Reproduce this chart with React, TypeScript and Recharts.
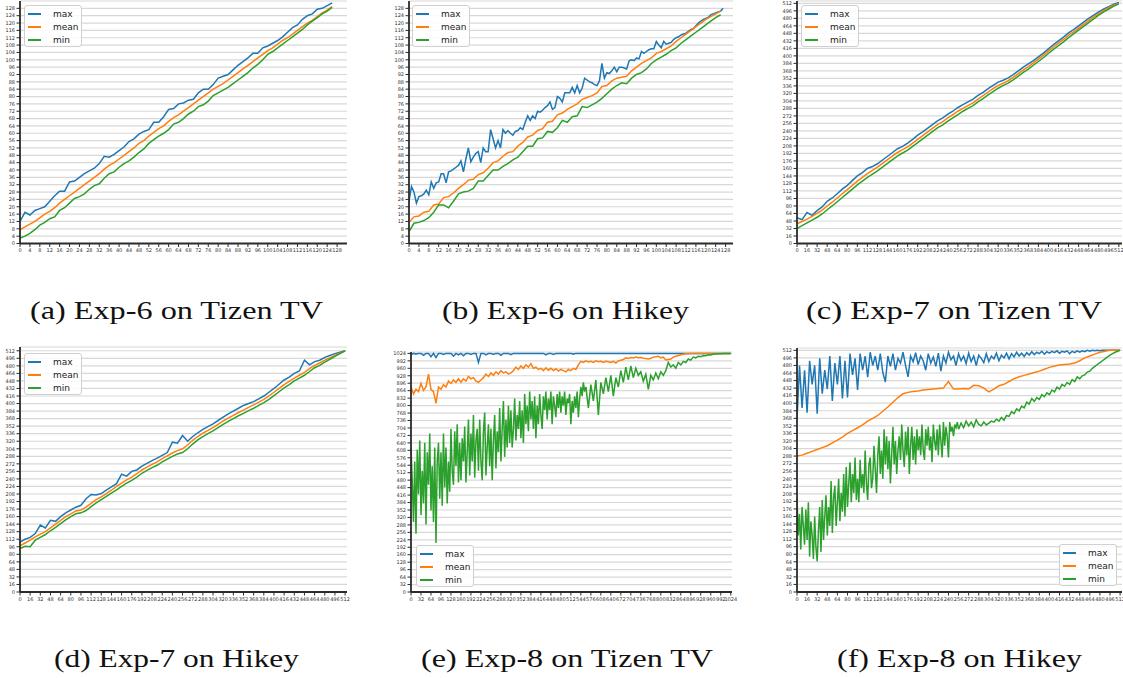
import React from 'react';
import { LineChart, Line, XAxis, YAxis, CartesianGrid } from 'recharts';

const BLUE = '#1f77b4';
const ORANGE = '#ff7f0e';
const GREEN = '#2ca02c';
const SERIES_NAMES = ['max', 'mean', 'min'];

// (a) Exp-6 on Tizen TV, sampled every 2
const aMax = [12, 17, 15.5, 18, 19, 20, 23, 26, 28.5, 28.5, 33.5, 34, 36, 38, 39.5, 41, 43.5, 47.5, 47, 48.5, 50.5, 52.5, 55.5, 57, 59.5, 61, 62, 66, 66, 69, 73, 73.5, 76, 76.5, 78, 78.5, 82, 84, 84, 86.5, 90, 91, 92, 94.5, 97, 99, 101, 103.5, 103.5, 106.5, 107.5, 109, 110.5, 112.5, 115, 117.5, 119, 122, 124, 125, 127.5, 128, 129.5, 131];
const aMean = [7.5, 9, 10.5, 12, 14, 16, 17.5, 19.5, 22, 24, 26, 28, 30, 32, 34, 36, 38, 40.5, 42.5, 44, 46, 48, 50, 52, 54.5, 56, 58.5, 60.5, 62.5, 64, 66.5, 68.5, 70, 72, 74, 76, 78, 80, 82, 84, 85.5, 87, 89, 91, 93, 95, 97, 99, 101, 103, 105, 106.5, 108.5, 110.5, 112, 114, 116, 118, 120, 121.5, 123.5, 125.5, 127, 129];
const aMin = [3, 4, 5.5, 7.5, 10, 11.5, 13.5, 14.5, 18, 19.5, 22, 24.5, 25.5, 27, 29.5, 31.5, 32.5, 35.5, 38, 39, 41.5, 43.5, 45, 47, 49.5, 51.5, 54.5, 56.5, 58.5, 60, 62, 65, 66, 68, 70.5, 72, 74.5, 75.5, 77.5, 80.5, 82, 83.5, 85, 87, 89, 91, 93, 95.5, 97.5, 100, 103, 104.5, 106.5, 108.5, 110.5, 112.5, 114.5, 116.5, 119, 121, 123, 125, 126.5, 128.5];

// (b) Exp-6 on Hikey (max every 1, others every 2)
const bMax = [23, 31, 28, 22, 25.5, 26, 27, 29, 26.5, 33.5, 30, 33, 33.5, 38, 38, 33, 39, 39.5, 40.5, 41.5, 42.5, 45, 39, 46, 52, 44.5, 47, 49, 50, 44, 52, 50, 50, 62, 57, 52, 56, 52, 62, 60, 61.5, 60, 59, 61, 61.5, 63, 62, 66, 69.5, 67, 69.5, 68, 72, 71.5, 72.5, 74, 75, 77, 73, 74, 80, 79, 77, 82, 82, 82, 85, 82, 86, 82, 84.5, 90, 89, 88, 87.5, 86.5, 86, 88.5, 98, 90, 93, 92.5, 94, 96, 93.5, 96, 96, 95.5, 95, 99.5, 100, 99.5, 101, 100.5, 104.5, 103.5, 104.5, 105.5, 106, 106, 110, 108, 106.5, 110, 108.5, 109, 109.5, 111, 112, 112.5, 113.5, 114, 114.5, 115.5, 116.5, 117, 118.5, 120, 121, 122, 122.5, 123, 124.5, 125, 125.5, 126, 126.5, 128];
const bMean = [11.5, 14.5, 15, 17, 17.5, 21, 21.5, 25, 25.5, 27.5, 30, 32, 34.5, 35, 37.5, 38.5, 41, 44, 45, 47.5, 49.5, 50, 53, 55, 58, 59, 61.5, 62.5, 66, 66.5, 70, 71, 73, 74.5, 76, 78.5, 79.5, 80.5, 82, 85.5, 86, 88.5, 90, 90.5, 91, 94, 96, 98, 99.5, 101, 103.5, 104.5, 106, 107.5, 110, 112, 114, 116, 118, 120, 122, 123.5, 125, 126.5];
const bMin = [6.5, 11, 11.5, 12.5, 14, 17, 21, 21, 19.5, 23, 27, 28, 28.5, 30, 34, 34, 37, 40, 40, 42, 43.5, 45.5, 47, 50, 53, 53, 57, 57.5, 61, 60.5, 63, 67, 66, 69, 69.5, 74.5, 74, 75.5, 77, 79, 81.5, 84, 86, 87.5, 87, 90, 92, 93, 95, 98, 100, 101.5, 103, 105, 106.5, 109, 111, 113, 115, 117, 119, 121, 123, 124.5];

// (c) Exp-7 on Tizen TV, every 8
const cMax = [55, 51, 66, 60, 70, 78, 90, 97, 106, 116, 124, 134, 144, 151, 160, 164, 170, 178, 186, 194, 202, 207, 214, 222, 231, 238, 246, 254, 262, 268, 276, 282, 290, 296, 302, 308, 316, 322, 330, 337, 344, 348, 353, 360, 368, 376, 383, 390, 398, 406, 415, 424, 432, 440, 449, 456, 464, 472, 480, 487, 494, 500, 505, 510, 514];
const cMean = [42, 47, 52, 58, 64, 71, 80, 88, 97, 106, 115, 124, 133, 141, 149, 156, 163, 171, 179, 187, 194, 200, 206, 214, 222, 230, 238, 246, 254, 260, 268, 275, 282, 288, 294, 300, 308, 315, 323, 330, 337, 342, 347, 354, 362, 370, 377, 385, 393, 401, 410, 419, 427, 435, 444, 451, 459, 467, 475, 483, 490, 497, 503, 508, 512];
const cMin = [32, 38, 44, 50, 56, 63, 72, 80, 89, 98, 107, 116, 125, 133, 141, 148, 155, 163, 171, 179, 187, 193, 199, 207, 215, 223, 231, 239, 247, 253, 261, 268, 275, 282, 288, 294, 302, 309, 317, 324, 331, 337, 342, 349, 357, 365, 372, 380, 388, 396, 405, 414, 422, 430, 439, 447, 455, 463, 471, 479, 487, 494, 500, 506, 511];

// (d) Exp-7 on Hikey, every 8
const dMax = [106, 112, 116, 124, 142, 136, 152, 150, 160, 168, 174, 180, 184, 198, 207, 206, 209, 216, 223, 230, 250, 246, 256, 259, 267, 273, 279, 284, 290, 296, 318, 316, 332, 320, 330, 338, 345, 351, 357, 364, 371, 378, 384, 390, 396, 400, 404, 410, 416, 424, 432, 441, 450, 456, 464, 469, 492, 482, 489, 492, 498, 502, 506, 509, 512];
const dMean = [98, 104, 110, 117, 123, 128, 136, 144, 152, 160, 166, 172, 174, 180, 188, 196, 202, 209, 216, 224, 231, 238, 244, 251, 259, 265, 271, 276, 283, 289, 295, 300, 304, 312, 322, 330, 337, 343, 349, 356, 363, 369, 375, 381, 386, 392, 397, 403, 409, 416, 424, 432, 440, 447, 454, 460, 466, 474, 481, 486, 492, 497, 502, 507, 512];
const dMin = [92, 97, 96, 110, 116, 122, 130, 137, 145, 153, 160, 166, 168, 173, 181, 189, 196, 203, 210, 217, 224, 231, 237, 244, 252, 258, 264, 269, 276, 282, 288, 293, 296, 304, 314, 323, 330, 336, 342, 349, 356, 362, 368, 374, 379, 385, 390, 396, 402, 409, 417, 425, 433, 440, 448, 454, 460, 468, 476, 481, 488, 494, 500, 506, 512];

// (e) Exp-8 on Tizen TV, every 8 (min: every 4 up to 560, then every 8)
const eMax = [
  1018, 1024, 1021, 1024, 1024, 1016, 1024, 1024, 1010, 1024,
  1006, 1024, 1024, 1020, 1024, 1024, 1024, 1012, 1024, 1018,
  1024, 1014, 1024, 1024, 1020, 1024, 1024, 985, 1024, 1024,
  1018, 1024, 1024, 1020, 1024, 1024, 1016, 1024, 1024, 1024,
  1019, 1024, 1024, 1024, 1024, 1024, 1024, 1024, 1024, 1024,
  1024, 1024, 1024, 1024, 1018, 1024, 1024, 1020, 1024, 1024,
  1024, 1024, 1024, 1024, 1024, 1021, 1024, 1024, 1024, 1024,
  1024, 1024, 1024, 1024, 1024, 1024, 1024, 1024, 1024, 1024,
  1024, 1024, 1024, 1024, 1024, 1024, 1024, 1024, 1024, 1024,
  1024, 1024, 1024, 1024, 1024, 1024, 1024, 1024, 1024, 1024,
  1024, 1024, 1024, 1024, 1024, 1024, 1024, 1024, 1024, 1024,
  1024, 1024, 1024, 1024, 1024, 1024, 1024, 1024, 1024, 1024,
  1024, 1024, 1024, 1024, 1024, 1024, 1024, 1024, 1024,
];
const eMean = [
  880, 850, 870, 860, 895, 865, 880, 935, 870, 860,
  810, 880, 870, 890, 880, 905, 895, 910, 900, 915,
  900, 915, 905, 925, 915, 920, 905, 900, 910, 920,
  935, 925, 940, 930, 945, 935, 950, 940, 945, 935,
  940, 950, 965, 955, 970, 960, 975, 965, 980, 960,
  965, 955, 960, 950, 962, 952, 960, 950, 958, 948,
  955, 950, 945, 955, 950, 960, 955, 975, 990, 985,
  992, 987, 990, 985, 992, 988, 990, 985, 990, 988,
  985, 990, 983, 992, 995, 998, 1005, 1002, 1006, 1004,
  1008, 1005, 1006, 1003, 1002, 1000, 1003, 1008, 1010, 1012,
  1005, 1008, 996, 998, 1000, 1008, 1012, 1015, 1018, 1020,
  1022, 1023, 1024, 1024, 1024, 1024, 1024, 1024, 1024, 1024,
  1024, 1024, 1024, 1024, 1024, 1024, 1024, 1024, 1024,
];
const eMinEarly = [
  620, 480, 300, 560, 250, 610, 420, 650, 330, 520,
  380, 640, 290, 600, 460, 680, 350, 540, 300, 620,
  210, 560, 640, 400, 600, 370, 680, 450, 620, 380,
  560, 430, 700, 520, 460, 690, 540, 720, 470, 640,
  480, 660, 560, 710, 470, 600, 740, 500, 680, 560,
  760, 490, 650, 700, 520, 740, 560, 480, 690, 770,
  500, 620, 720, 540, 700, 480, 650, 760, 530, 690,
  600, 790, 560, 700, 820, 580, 740, 620, 800, 640,
  780, 620, 700, 830, 650, 760, 700, 820, 660, 780,
  640, 850, 720, 800, 690, 860, 740, 820, 700, 840,
  660, 800, 720, 850, 760, 700, 840, 780, 860, 740,
  830, 780, 860, 720, 840, 800, 750, 850, 790, 860,
  770, 840, 800, 860, 760, 830, 810, 850, 720, 820,
  770, 840, 790, 860, 750, 830, 880, 840, 900, 860,
  880,
];
const eMinLate = [
  880, 790, 890, 820, 910, 760, 900, 850, 920, 860,
  930, 840, 920, 880, 950, 900, 965, 910, 970, 920,
  960, 930, 945, 905, 935, 870, 930, 910, 940, 915,
  945, 930, 950, 985, 965, 975, 960, 985, 975, 990,
  985, 1000, 995, 1008, 1005, 1012, 1010, 1015, 1014, 1018,
  1017, 1020, 1021, 1022, 1023, 1024, 1024, 1024, 1024,
];

// (f) Exp-8 on Hikey (max every 4, mean every 8, min every 2 then every 4)
const fMax = [
  365, 480, 390, 470, 380, 490, 440, 480, 378, 495,
  420, 470, 430, 500, 405, 485, 440, 500, 410, 490,
  412, 505, 460, 495, 428, 505, 470, 500, 455, 508,
  480, 500, 470, 505, 465, 445, 500, 478, 505, 470,
  495, 485, 508, 480, 456, 500, 488, 507, 482, 500,
  490, 470, 505, 485, 498, 478, 506, 468, 500, 485,
  508, 492, 500, 480, 505, 490, 500, 484, 506, 488,
  500, 480, 502, 495, 486, 505, 488, 500, 494, 506,
  490, 502, 496, 506, 494, 505, 498, 508, 500, 506,
  499, 507, 502, 509, 503, 508, 505, 510, 504, 509,
  506, 510, 507, 511, 506, 510, 508, 511, 505, 510,
  507, 511, 508, 511, 509, 512, 510, 512, 511, 512,
  511, 512, 512, 512, 512, 512, 512, 512, 512,
];
const fMean = [288, 290, 294, 298, 302, 306, 310, 316, 322, 328, 336, 342, 348, 354, 362, 368, 374, 383, 392, 402, 412, 420, 423, 425, 426, 428, 429, 430, 431, 432, 446, 430, 430, 431, 430, 438, 437, 432, 424, 430, 437, 440, 446, 452, 456, 459, 462, 465, 468, 472, 476, 479, 481, 482, 483, 485, 490, 496, 500, 504, 508, 510, 512, 512, 512];
const fMinEarly = [
  200, 120, 165, 90, 180, 140, 100, 175, 110, 190,
  75, 150, 120, 70, 160, 95, 65, 130, 180, 85,
  195, 110, 160, 205, 120, 180, 140, 235, 125, 200,
  225, 140, 190, 240, 150, 210, 170, 250, 160, 265,
  180, 230, 275, 190, 250, 210, 285, 195, 240, 190,
  280, 220, 250, 210, 300, 230, 195, 270, 285, 220,
  240, 310, 260, 210, 290, 330, 250, 300, 240, 345,
  270, 330, 260, 320, 230, 290, 350, 270, 320, 250,
  300, 330, 280, 355, 300, 265, 340, 290, 350, 250,
  310, 350, 280, 330, 270, 345, 300, 330, 290, 355,
  300, 280, 345, 310, 350, 300, 330, 275, 355, 320,
  300, 345, 290, 355, 320, 285, 360, 310, 350, 330,
  285, 360, 340, 350, 330, 355, 348, 360, 345,
];
const fMinLate = [
  345, 358, 348, 362, 352, 360,
  350, 365, 355, 352, 360, 354, 358, 362, 360, 366,
  362, 370, 364, 374, 372, 382, 378, 388, 384, 394,
  390, 402, 398, 410, 404, 412, 408, 418, 414, 422,
  418, 428, 424, 434, 430, 440, 436, 444, 440, 450,
  446, 456, 452, 458, 460, 466, 468, 474, 478, 482,
  486, 490, 494, 498, 502, 505, 508, 510, 512,
];

const range = (max: number, step: number) => {
  const r: number[] = [];
  for (let v = 0; v <= max; v += step) r.push(v);
  return r;
};
const pts = (vals: number[], step: number, start = 0) => vals.map((y, i) => ({ x: start + i * step, y }));

const AXIS = '#2b2b2b';
const tickStyle = { fontSize: 5, fill: '#333', fontFamily: 'DejaVu Sans' };

type Box = { l: number; t: number; r: number; b: number };
type Series = { vals: number[]; step: number; color: string; start?: number };

function Legend({ left, top }: { left: number; top: number }) {
  const colors = [BLUE, ORANGE, GREEN];
  return (
    <div style={{
      position: 'absolute', left, top, width: 58, height: 42, boxSizing: 'border-box',
      border: '1px solid #d0d0d0', borderRadius: 3, background: 'rgba(255,255,255,0.85)',
      paddingTop: 1.5, fontFamily: 'DejaVu Sans', fontSize: 9, color: '#222',
    }}>
      {SERIES_NAMES.map((n, i) => (
        <div key={n} style={{ height: 13, display: 'flex', alignItems: 'center' }}>
          <span style={{ display: 'inline-block', width: 13, height: 1.8, background: colors[i], marginLeft: 3, marginRight: 12 }} />
          <span>{n}</span>
        </div>
      ))}
    </div>
  );
}

function Panel({ box, xMax, yMax, tickMax, tickStep, series, legend }: {
  box: Box; xMax: number; yMax: number; tickMax: number; tickStep: number; series: Series[]; legend: { left: number; top: number };
}) {
  const YW = 24, MT = 4, MR = 6, XH = 14;
  const w = box.r - box.l + YW + MR;
  const h = box.b - box.t + MT + XH;
  const ticks = range(tickMax, tickStep);
  const line = { stroke: AXIS, strokeWidth: 1.8 };
  return (
    <>
      <div style={{ position: 'absolute', left: box.l - YW, top: box.t - MT }}>
        <LineChart width={w} height={h} margin={{ top: MT, right: MR, bottom: 0, left: 0 }}>
          <CartesianGrid vertical={false} stroke="#d8d8d8" strokeWidth={1.2} />
          <XAxis type="number" dataKey="x" domain={[0, xMax]} ticks={ticks} interval={0} allowDataOverflow
            height={XH} tick={tickStyle} tickSize={3.5} tickMargin={1.5} tickLine={{ stroke: AXIS, strokeWidth: 1 }} axisLine={line} />
          <YAxis type="number" domain={[0, yMax]} ticks={ticks} interval={0} allowDataOverflow
            width={YW} tick={tickStyle} tickSize={3.5} tickMargin={1.5} tickLine={{ stroke: AXIS, strokeWidth: 1 }} axisLine={line} />
          <XAxis xAxisId="top" orientation="top" type="number" domain={[0, xMax]} height={0} tick={false} tickLine={false} axisLine={line} />
          <YAxis yAxisId="right" orientation="right" type="number" domain={[0, yMax]} width={0} tick={false} tickLine={false} axisLine={line} />
          {series.map((s, i) => (
            <Line key={i} data={pts(s.vals, s.step, s.start)} dataKey="y" type="linear" stroke={s.color} strokeWidth={1.5}
              dot={false} isAnimationActive={false} />
          ))}
        </LineChart>
      </div>
      <Legend left={legend.left} top={legend.top} />
    </>
  );
}

const CAPTIONS = [
  { text: '(a) Exp-6 on Tizen TV', x: 30, y: 319, w: 293 },
  { text: '(b) Exp-6 on Hikey', x: 442, y: 319, w: 247 },
  { text: '(c) Exp-7 on Tizen TV', x: 806, y: 319, w: 296 },
  { text: '(d) Exp-7 on Hikey', x: 54, y: 667, w: 245 },
  { text: '(e) Exp-8 on Tizen TV', x: 421, y: 667, w: 292 },
  { text: '(f) Exp-8 on Hikey', x: 837, y: 667, w: 245 },
];

export default function App() {
  return (
    <div style={{ position: 'absolute', left: 0, top: 0, width: 1123, height: 678, overflow: 'hidden', background: '#fff' }}>
      <Panel box={{ l: 20, t: 1, r: 347, b: 243.5 }} xMax={132} yMax={132} tickMax={128} tickStep={4}
        series={[{ vals: aMax, step: 2, color: BLUE }, { vals: aMean, step: 2, color: ORANGE }, { vals: aMin, step: 2, color: GREEN }]}
        legend={{ left: 24, top: 5 }} />
      <Panel box={{ l: 409, t: 1, r: 733, b: 243.5 }} xMax={131} yMax={132} tickMax={128} tickStep={4}
        series={[{ vals: bMax, step: 1, color: BLUE }, { vals: bMean, step: 2, color: ORANGE }, { vals: bMin, step: 2, color: GREEN }]}
        legend={{ left: 412, top: 5 }} />
      <Panel box={{ l: 797, t: 1, r: 1122, b: 243.5 }} xMax={517} yMax={517} tickMax={512} tickStep={16}
        series={[{ vals: cMax, step: 8, color: BLUE }, { vals: cMean, step: 8, color: ORANGE }, { vals: cMin, step: 8, color: GREEN }]}
        legend={{ left: 801, top: 5 }} />
      <Panel box={{ l: 20, t: 347, r: 347, b: 592 }} xMax={515} yMax={520} tickMax={512} tickStep={16}
        series={[{ vals: dMax, step: 8, color: BLUE }, { vals: dMean, step: 8, color: ORANGE }, { vals: dMin, step: 8, color: GREEN }]}
        legend={{ left: 24, top: 353 }} />
      <Panel box={{ l: 411, t: 352, r: 732, b: 592 }} xMax={1028} yMax={1030} tickMax={1024} tickStep={32}
        series={[
          { vals: eMax, step: 8, color: BLUE }, { vals: eMean, step: 8, color: ORANGE },
          { vals: eMinEarly, step: 4, color: GREEN }, { vals: eMinLate, step: 8, start: 560, color: GREEN },
        ]}
        legend={{ left: 416, top: 545 }} />
      <Panel box={{ l: 797, t: 348, r: 1122, b: 592 }} xMax={515} yMax={517} tickMax={512} tickStep={16}
        series={[
          { vals: fMax, step: 4, color: BLUE }, { vals: fMean, step: 8, color: ORANGE },
          { vals: fMinEarly, step: 2, color: GREEN }, { vals: fMinLate, step: 4, start: 256, color: GREEN },
        ]}
        legend={{ left: 1059, top: 544 }} />
      <svg width={1123} height={678} style={{ position: 'absolute', left: 0, top: 0, pointerEvents: 'none' }}>
        {CAPTIONS.map((c) => (
          <text key={c.text} x={c.x} y={c.y} textLength={c.w} lengthAdjust="spacingAndGlyphs"
            style={{ fontFamily: '"Liberation Serif", "DejaVu Serif", serif', fontSize: 25 }} fill="#111">{c.text}</text>
        ))}
      </svg>
    </div>
  );
}
